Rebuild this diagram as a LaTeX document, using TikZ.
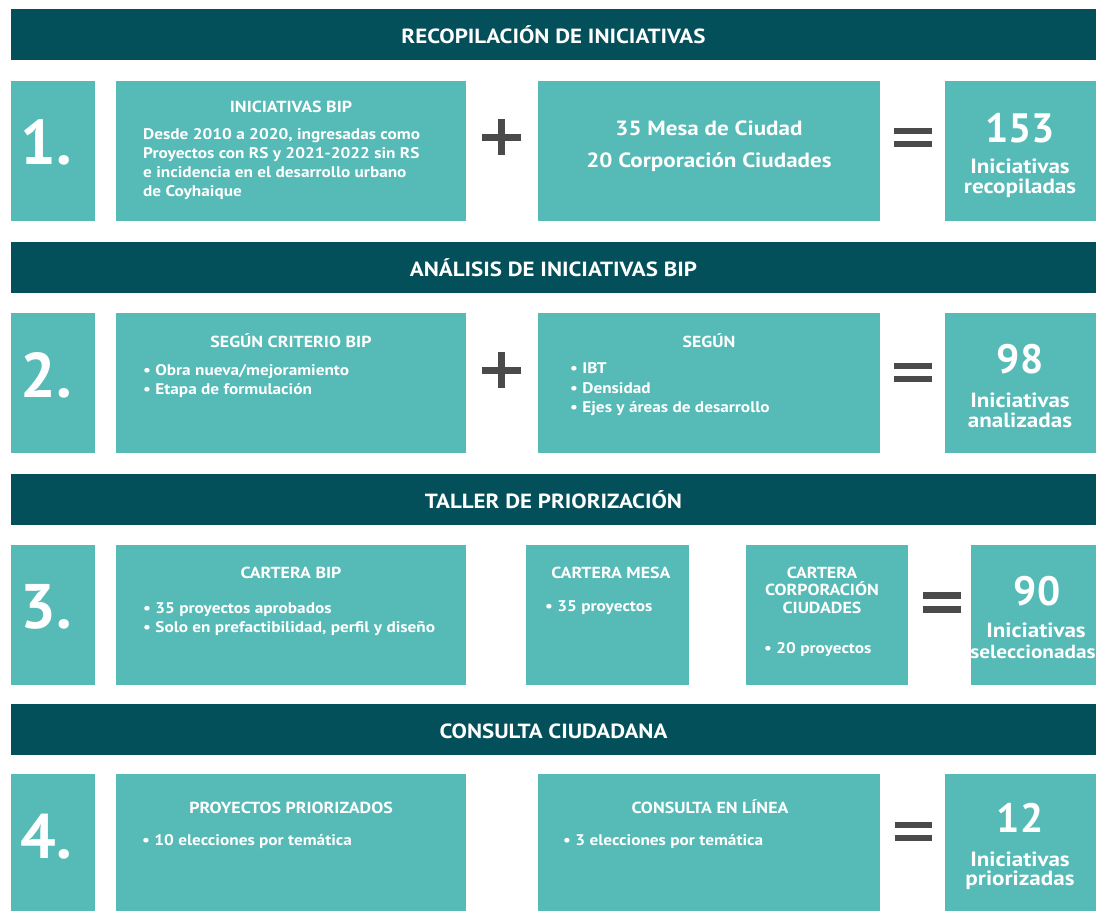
\documentclass[tikz,border=0pt]{standalone}
\usepackage{fontspec}
\setmainfont{PT Sans}
\newfontfamily\widefont{PT Sans}[FakeStretch=1.12]
\definecolor{darkteal}{HTML}{03505A}
\definecolor{boxteal}{HTML}{56BAB7}
\definecolor{symgray}{HTML}{4A4A4A}
\newcommand\fsz[1]{\fontsize{#1}{#1}\selectfont}
\tikzset{
  hdr/.style={fill=darkteal, anchor=north west, inner sep=0pt, minimum width=1085pt, minimum height=51pt},
  tbox/.style={fill=boxteal, anchor=north west, inner sep=0pt},
  txt/.style={text=white, inner sep=0pt},
  ctr/.style={txt, anchor=base},
  lft/.style={txt, anchor=base west},
  hdrtxt/.style={ctr, font=\widefont\bfseries\fsz{20.5}},
  bignum/.style={ctr, font=\bfseries\fsz{63}},
  ttl/.style={ctr, font=\widefont\bfseries\fsz{16}},
  body/.style={lft, font=\widefont\bfseries\fsz{15.4}},
  resnum/.style={ctr, font=\bfseries\fsz{41}},
  reslbl/.style={ctr, font=\widefont\bfseries\fsz{20.6}},
  sym/.style={fill=symgray}
}
\begin{document}
\begin{tikzpicture}[x=1pt,y=-1pt]
\useasboundingbox (0,0) rectangle (1096,911);
\fill[white] (0,0) rectangle (1096,911);

% ---------- Row 1 ----------
\node[hdr] (h1) at (11,9) {};
\node[hdrtxt] (h1t) at (553.5,43) {RECOPILACIÓN DE INICIATIVAS};
\node[tbox, minimum width=84pt, minimum height=140pt] (n1) at (11,81) {};
\node[bignum] (n1t) at (46,164) {1.};
\node[tbox, minimum width=350pt, minimum height=140pt] (a1) at (116,81) {};
\node[ttl] (a1t) at (291,112) {INICIATIVAS BIP};
\node[body] (a1l1) at (143,139) {Desde 2010 a 2020, ingresadas como};
\node[body] (a1l2) at (143,158) {Proyectos con RS y 2021-2022 sin RS};
\node[body] (a1l3) at (143,177) {e incidencia en el desarrollo urbano};
\node[body] (a1l4) at (143,196) {de Coyhaique};
\fill[sym] (482,134) rectangle (521,141);
\fill[sym] (498,119) rectangle (505,155);
\node[tbox, minimum width=342pt, minimum height=140pt] (b1) at (538,81) {};
\node[reslbl] (b1l1) at (709,135) {35 Mesa de Ciudad};
\node[reslbl] (b1l2) at (709,167) {20 Corporación Ciudades};
\fill[sym] (894,128) rectangle (932,134);
\fill[sym] (894,141) rectangle (932,147);
\node[tbox, minimum width=151pt, minimum height=140pt] (r1) at (945,81) {};
\node[resnum] (r1n) at (1020,142) {153};
\node[reslbl] (r1l1) at (1020,173) {Iniciativas};
\node[reslbl] (r1l2) at (1020,193) {recopiladas};

% ---------- Row 2 ----------
\node[hdr] (h2) at (11,242) {};
\node[hdrtxt] (h2t) at (553.5,276) {ANÁLISIS DE INICIATIVAS BIP};
\node[tbox, minimum width=84pt, minimum height=140pt] (n2) at (11,313) {};
\node[bignum] (n2t) at (46,397) {2.};
\node[tbox, minimum width=350pt, minimum height=140pt] (a2) at (116,313) {};
\node[ttl] (a2t) at (291,347) {SEGÚN CRITERIO BIP};
\node[body] (a2l1) at (143,375) {• Obra nueva/mejoramiento};
\node[body] (a2l2) at (143,394) {• Etapa de formulación};
\fill[sym] (482,366.5) rectangle (521,373.5);
\fill[sym] (498,352) rectangle (505,388);
\node[tbox, minimum width=342pt, minimum height=140pt] (b2) at (538,313) {};
\node[ttl] (b2t) at (709,347) {SEGÚN};
\node[body] (b2l1) at (570,373) {• IBT};
\node[body] (b2l2) at (570,393) {• Densidad};
\node[body] (b2l3) at (570,412) {• Ejes y áreas de desarrollo};
\fill[sym] (894,363) rectangle (932,369);
\fill[sym] (894,376) rectangle (932,382);
\node[tbox, minimum width=151pt, minimum height=140pt] (r2) at (945,313) {};
\node[resnum] (r2n) at (1020,373) {98};
\node[reslbl] (r2l1) at (1020,407) {Iniciativas};
\node[reslbl] (r2l2) at (1020,427) {analizadas};

% ---------- Row 3 ----------
\node[hdr] (h3) at (11,474) {};
\node[hdrtxt] (h3t) at (553.5,508) {TALLER DE PRIORIZACIÓN};
\node[tbox, minimum width=84pt, minimum height=140pt] (n3) at (11,545) {};
\node[bignum] (n3t) at (46,628) {3.};
\node[tbox, minimum width=350pt, minimum height=140pt] (a3) at (116,545) {};
\node[ttl] (a3t) at (291,578) {CARTERA BIP};
\node[body] (a3l1) at (143,613) {• 35 proyectos aprobados};
\node[body] (a3l2) at (143,632) {• Solo en prefactibilidad, perfil y diseño};
\node[tbox, minimum width=163pt, minimum height=140pt] (m3) at (526,545) {};
\node[ttl] (m3t) at (611,578) {CARTERA MESA};
\node[body] (m3l1) at (545,611) {• 35 proyectos};
\node[tbox, minimum width=162pt, minimum height=140pt] (c3) at (746,545) {};
\node[ttl] (c3t1) at (822,578) {CARTERA};
\node[ttl] (c3t2) at (822,595) {CORPORACIÓN};
\node[ttl] (c3t3) at (822,613) {CIUDADES};
\node[body] (c3l1) at (764,653) {• 20 proyectos};
\fill[sym] (923,592) rectangle (961,599);
\fill[sym] (923,606) rectangle (961,613);
\node[tbox, minimum width=125pt, minimum height=140pt] (r3) at (971,545) {};
\node[resnum] (r3n) at (1037,605) {90};
\node[reslbl] (r3l1) at (1036,637) {Iniciativas};
\node[reslbl, font=\widefont\bfseries\fsz{19}] (r3l2) at (1033,658) {seleccionadas};

% ---------- Row 4 ----------
\node[hdr] (h4) at (11,704) {};
\node[hdrtxt] (h4t) at (553.5,738) {CONSULTA CIUDADANA};
\node[tbox, minimum width=84pt, minimum height=137pt] (n4) at (11,774) {};
\node[bignum] (n4t) at (46,858) {4.};
\node[tbox, minimum width=350pt, minimum height=137pt] (a4) at (116,774) {};
\node[ttl] (a4t) at (291,813) {PROYECTOS PRIORIZADOS};
\node[body] (a4l1) at (142,845) {• 10 elecciones por temática};
\node[tbox, minimum width=342pt, minimum height=137pt] (b4) at (538,774) {};
\node[ttl] (b4t) at (710,813) {CONSULTA EN LÍNEA};
\node[body] (b4l1) at (563,845) {• 3 elecciones por temática};
\fill[sym] (895,822) rectangle (932,828);
\fill[sym] (895,835) rectangle (932,841);
\node[tbox, minimum width=151pt, minimum height=137pt] (r4) at (945,774) {};
\node[resnum] (r4n) at (1020,832) {12};
\node[reslbl] (r4l1) at (1020,866) {Iniciativas};
\node[reslbl] (r4l2) at (1020,885) {priorizadas};
\end{tikzpicture}
\end{document}
